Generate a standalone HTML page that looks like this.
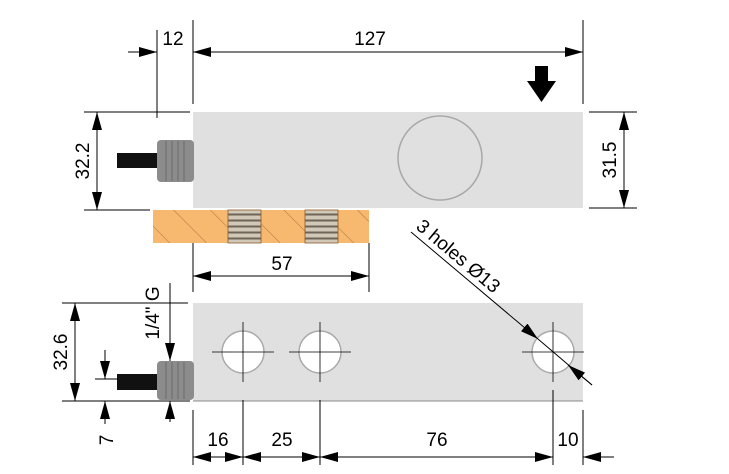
<!DOCTYPE html>
<html><head><meta charset="utf-8"><style>
html,body{margin:0;padding:0;background:#fff;}
svg{display:block;font-family:"Liberation Sans",Arial,sans-serif;}
</style></head><body>
<svg width="729" height="474" viewBox="0 0 729 474" xmlns="http://www.w3.org/2000/svg">
<defs>
<marker id="a" viewBox="0 0 18 10" refX="18" refY="5" markerWidth="18" markerHeight="10" markerUnits="userSpaceOnUse" orient="auto-start-reverse"><path d="M0,0L18,5L0,10z" fill="#000"/></marker>
<pattern id="hatch" width="26" height="26" patternUnits="userSpaceOnUse" patternTransform="rotate(-45)"><rect width="26" height="26" fill="#f7b870"/><line x1="0" y1="0" x2="0" y2="26" stroke="#8a5a2a" stroke-width="0.7"/></pattern>
<pattern id="spring" width="10" height="6" patternUnits="userSpaceOnUse"><rect width="10" height="6" fill="#d2c8b8"/><rect y="3.5" width="10" height="2" fill="#6e6458"/></pattern>
</defs>
<g stroke="#000" stroke-width="1" fill="none">
<line x1="157" y1="30" x2="157" y2="118"/><line x1="193" y1="20" x2="193" y2="104"/><line x1="583" y1="20" x2="583" y2="104"/>
<line x1="128" y1="52" x2="157" y2="52" marker-end="url(#a)"/>
<line x1="193" y1="52" x2="215" y2="52" marker-start="url(#a)"/>
<line x1="193" y1="52" x2="583" y2="52" marker-end="url(#a)"/>
<line x1="84" y1="112" x2="190" y2="112"/><line x1="84" y1="210" x2="150" y2="210"/>
<line x1="97" y1="112" x2="97" y2="210" marker-start="url(#a)" marker-end="url(#a)"/>
<line x1="589" y1="112" x2="637" y2="112"/><line x1="589" y1="208" x2="637" y2="208"/>
<line x1="624" y1="112" x2="624" y2="208" marker-start="url(#a)" marker-end="url(#a)"/>
</g>
<text x="173" y="45" font-size="19" text-anchor="middle">12</text>
<text x="370" y="45" font-size="19" text-anchor="middle">127</text>
<path d="M535,66H548V81H556L541.5,102L527,81H535Z" fill="#000"/>
<text transform="translate(89,161) rotate(-90)" font-size="19" text-anchor="middle">32.2</text>
<text transform="translate(616,160) rotate(-90)" font-size="19" text-anchor="middle">31.5</text>
<rect x="193" y="112" width="390" height="96" fill="#e0e0e0"/>
<circle cx="440" cy="158" r="42" fill="#e0e0e0" stroke="#a8a8a8" stroke-width="1.5"/>
<rect x="117" y="153" width="42" height="15" fill="#111"/>
<rect x="157" y="140" width="37" height="42" rx="4" fill="#8c8c8c"/>
<g stroke="#707070" stroke-width="1.2"><line x1="166" y1="141" x2="166" y2="181"/><line x1="172" y1="141" x2="172" y2="181"/><line x1="178" y1="141" x2="178" y2="181"/><line x1="184" y1="141" x2="184" y2="181"/></g>
<rect x="153" y="210" width="216" height="33" fill="url(#hatch)"/>
<rect x="228" y="210" width="33" height="33" fill="url(#spring)" stroke="#8a5a2a" stroke-width="0.8"/>
<rect x="305" y="210" width="33" height="33" fill="url(#spring)" stroke="#8a5a2a" stroke-width="0.8"/>
<g stroke="#000" fill="none">
<line x1="193" y1="243" x2="193" y2="292"/><line x1="369" y1="243" x2="369" y2="292"/>
<line x1="193" y1="276" x2="369" y2="276" marker-start="url(#a)" marker-end="url(#a)"/>
</g>
<text x="282" y="270" font-size="19" text-anchor="middle">57</text>
<rect x="193" y="303" width="390" height="98" fill="#e0e0e0"/>
<line x1="193" y1="401" x2="583" y2="401" stroke="#888"/>
<g fill="#fff" stroke="#aaa" stroke-width="1.5"><circle cx="243" cy="352" r="21"/><circle cx="320" cy="352" r="21"/><circle cx="553" cy="352" r="21"/></g>
<g stroke="#000" stroke-width="0.8"><path d="M212,352H274M243,322V382M289,352H351M320,322V382M522,352H584M553,322V382"/></g>
<rect x="117" y="374" width="42" height="16" fill="#111"/>
<rect x="157" y="361" width="37" height="39" rx="4" fill="#8c8c8c"/>
<g stroke="#707070" stroke-width="1.2"><line x1="166" y1="362" x2="166" y2="399"/><line x1="172" y1="362" x2="172" y2="399"/><line x1="178" y1="362" x2="178" y2="399"/><line x1="184" y1="362" x2="184" y2="399"/></g>
<g stroke="#000" fill="none">
<line x1="62" y1="303" x2="188" y2="303"/><line x1="62" y1="401" x2="190" y2="401"/>
<line x1="75" y1="303" x2="75" y2="401" marker-start="url(#a)" marker-end="url(#a)"/>
<line x1="95" y1="379" x2="118" y2="379"/>
<line x1="105" y1="350" x2="105" y2="379" marker-end="url(#a)"/>
<line x1="105" y1="424" x2="105" y2="401" marker-end="url(#a)"/>
<line x1="170" y1="283" x2="170" y2="361" marker-end="url(#a)"/>
<line x1="170" y1="422" x2="170" y2="401" marker-end="url(#a)"/>
<line x1="193" y1="410" x2="193" y2="465"/><line x1="243" y1="400" x2="243" y2="465"/><line x1="320" y1="400" x2="320" y2="465"/><line x1="553" y1="390" x2="553" y2="465"/><line x1="583" y1="410" x2="583" y2="465"/>
<line x1="193" y1="457" x2="243" y2="457" marker-start="url(#a)" marker-end="url(#a)"/>
<line x1="243" y1="457" x2="320" y2="457" marker-start="url(#a)" marker-end="url(#a)"/>
<line x1="320" y1="457" x2="553" y2="457" marker-start="url(#a)" marker-end="url(#a)"/>
<line x1="614" y1="457" x2="583" y2="457" marker-end="url(#a)"/>
<line x1="411" y1="232" x2="538" y2="339" marker-end="url(#a)"/>
<line x1="538" y1="339" x2="592" y2="385"/>
<line x1="592" y1="385" x2="568" y2="365" marker-end="url(#a)"/>
</g>
<text transform="translate(67,352) rotate(-90)" font-size="19" text-anchor="middle">32.6</text>
<text transform="translate(113,440) rotate(-90)" font-size="19" text-anchor="middle">7</text>
<text transform="translate(159,313) rotate(-90)" font-size="19" text-anchor="middle">1/4" G</text>
<text x="218" y="446" font-size="19" text-anchor="middle">16</text>
<text x="282" y="446" font-size="19" text-anchor="middle">25</text>
<text x="437" y="446" font-size="19" text-anchor="middle">76</text>
<text x="568" y="446" font-size="19" text-anchor="middle">10</text>
<text transform="translate(415,228) rotate(40)" font-size="19">3 holes Ø13</text>
</svg>
</body></html>
